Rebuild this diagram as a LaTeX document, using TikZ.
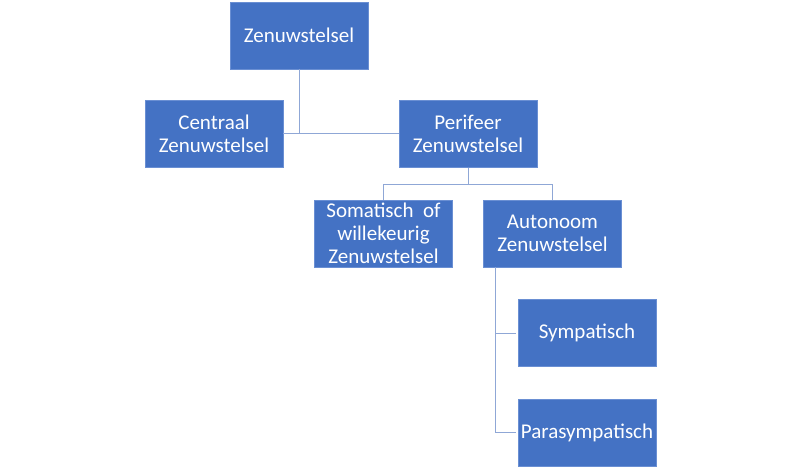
\documentclass[tikz,border=0pt]{standalone}
\usepackage{fontspec}
\setmainfont{Carlito}
\definecolor{boxfill}{HTML}{4472C4}
\definecolor{boxline}{HTML}{6A8FD3}
\definecolor{conn}{HTML}{8FA7D6}
\begin{document}
\begin{tikzpicture}[x=1pt,y=-1pt,
  orgbox/.style={draw=boxline,line width=0.8pt,fill=boxfill,text=white,
    minimum width=138pt,minimum height=67pt,inner sep=0pt,align=center,
    font=\fontsize{21}{23}\selectfont},
  link/.style={draw=conn,line width=1pt}]
\useasboundingbox[fill=white] (0,0) rectangle (800,468);
\node[orgbox] (Z) at (299,35.5) {Zenuwstelsel};
\node[orgbox] (C) at (214,134) {Centraal\\Zenuwstelsel};
\node[orgbox] (P) at (468,134) {Perifeer\\Zenuwstelsel};
\node[orgbox] (S) at (383.5,233.5) {Somatisch\ \ of\\willekeurig\\Zenuwstelsel};
\node[orgbox] (A) at (552.5,233.5) {Autonoom\\Zenuwstelsel};
\node[orgbox] (Sy) at (587,333) {Sympatisch};
\node[orgbox] (Pa) at (587,432.5) {Parasympatisch};
\coordinate (pj) at ([yshift=-17pt]P.south);
\coordinate (av) at ([xshift=12pt]A.south west);
\draw[link] (Z.south) -- (Z.south |- C.east);
\draw[link] (C.east) -- (P.west);
\draw[link] (P.south) -- (pj);
\draw[link] (S.north) |- (pj) -| (A.north);
\draw[link,shorten >=2pt] (av) |- (Sy.west);
\draw[link,shorten >=2pt] (av) |- (Pa.west);
\end{tikzpicture}
\end{document}
